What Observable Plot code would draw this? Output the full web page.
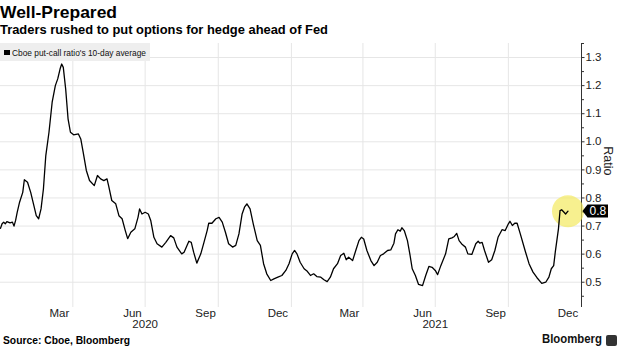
<!DOCTYPE html>
<html>
<head>
<meta charset="utf-8">
<script src="https://cdn.jsdelivr.net/npm/d3@7"></script>
<script src="https://cdn.jsdelivr.net/npm/@observablehq/plot@0.6"></script>
<style>
  html, body { margin: 0; padding: 0; background: #fff; }
  body { width: 620px; height: 348px; overflow: hidden; position: relative; font-family: "Liberation Sans", Arial, sans-serif; color: #000; }
  .abs { position: absolute; white-space: nowrap; transform-origin: 0 0; line-height: 1; }
  #title { left: 0; top: 4px; font-size: 17px; font-weight: bold; }
  #subtitle { left: 0; top: 24px; font-size: 12.5px; font-weight: bold; }
  #chart { position: absolute; left: 0; top: 40px; }
  #legendbox { position: absolute; left: 0; top: 43px; width: 150px; height: 18px; background: #eeeeee; }
  #legendsq { position: absolute; left: 4px; top: 49.5px; width: 5.5px; height: 5.5px; background: #000; }
  #legendtxt { left: 11.7px; top: 48px; font-size: 9.5px; color: #111; }
  #source { left: 3px; top: 336px; font-size: 10px; font-weight: bold; }
  #brand { left: 542px; top: 333px; font-size: 12px; font-weight: bold; color: #111; }
  #brandicon { position: absolute; left: 606px; top: 335px; width: 11px; height: 10.5px; background: #333; border-radius: 2px; }
</style>
</head>
<body>
<div id="title" class="abs">Well-Prepared</div>
<div id="subtitle" class="abs">Traders rushed to put options for hedge ahead of Fed</div>
<div id="chart"></div>
<div id="legendbox"></div>
<div id="legendsq"></div>
<div id="legendtxt" class="abs">Cboe put-call ratio's 10-day average</div>
<div id="source" class="abs">Source: Cboe, Bloomberg</div>
<div id="brand" class="abs">Bloomberg</div>
<div id="brandicon"></div>
<script>
// ---- data ----
// days since 2020-01-01 (UTC)
const dayOffsets = [
  0, 2, 4, 6, 8, 12, 15, 17, 19, 21, 24, 28, 30, 34, 38, 42, 45, 48, 51, 54,
  57, 61, 65, 69, 72, 75, 77, 79, 82, 85, 88, 92, 98, 101, 104, 108, 112, 118, 122, 126,
  130, 134, 136, 140, 145, 149, 153, 157, 160, 164, 169, 173, 175, 178, 182, 186, 189, 193, 197, 203,
  208, 214, 218, 222, 228, 231, 237, 240, 243, 247, 252, 256, 260, 262, 266, 271, 275, 279, 283, 287,
  292, 296, 300, 304, 307, 310, 314, 318, 323, 327, 331, 335, 340, 344, 349, 354, 359, 363, 367, 370,
  373, 377, 382, 386, 390, 394, 398, 403, 407, 411, 415, 419, 424, 428, 432, 435, 438, 443, 447, 451,
  454, 457, 461, 466, 470, 474, 478, 482, 487, 491, 495, 497, 500, 503, 505, 508, 512, 515, 518, 522,
  526, 531, 535, 539, 543, 547, 550, 554, 560, 564, 568, 571, 574, 577, 581, 585, 588, 593, 598, 601,
  603, 606, 609, 614, 618, 622, 626, 631, 635, 639, 641, 644, 647, 650, 654, 660, 665, 670, 675, 681,
  686, 690, 693, 696, 698, 702, 704, 706, 709, 711, 714
];
const ratioValues = [
  0.692, 0.708, 0.714, 0.708, 0.716, 0.711, 0.714, 0.700, 0.720, 0.749, 0.785, 0.820, 0.865, 0.856, 0.820, 0.773, 0.737, 0.726, 0.761, 0.832,
  0.951, 1.034, 1.141, 1.200, 1.224, 1.260, 1.277, 1.265, 1.188, 1.082, 1.034, 1.025, 1.028, 1.010, 0.963, 0.898, 0.862, 0.844, 0.880, 0.868,
  0.862, 0.868, 0.844, 0.791, 0.779, 0.737, 0.726, 0.684, 0.655, 0.678, 0.690, 0.731, 0.761, 0.743, 0.749, 0.743, 0.720, 0.660, 0.637, 0.625,
  0.642, 0.666, 0.658, 0.625, 0.601, 0.607, 0.646, 0.642, 0.607, 0.568, 0.601, 0.642, 0.684, 0.710, 0.710, 0.726, 0.731, 0.714, 0.678, 0.637,
  0.625, 0.631, 0.672, 0.743, 0.767, 0.779, 0.761, 0.708, 0.648, 0.631, 0.566, 0.530, 0.506, 0.512, 0.518, 0.524, 0.542, 0.566, 0.601, 0.613,
  0.601, 0.571, 0.548, 0.539, 0.524, 0.530, 0.520, 0.518, 0.509, 0.502, 0.518, 0.548, 0.566, 0.595, 0.603, 0.580, 0.589, 0.577, 0.613, 0.648,
  0.660, 0.654, 0.613, 0.577, 0.559, 0.571, 0.595, 0.601, 0.613, 0.615, 0.639, 0.672, 0.687, 0.682, 0.694, 0.684, 0.648, 0.601, 0.548, 0.524,
  0.492, 0.488, 0.524, 0.556, 0.553, 0.542, 0.527, 0.559, 0.601, 0.654, 0.658, 0.663, 0.674, 0.648, 0.634, 0.625, 0.601, 0.599, 0.637, 0.646,
  0.639, 0.642, 0.613, 0.571, 0.580, 0.613, 0.660, 0.687, 0.684, 0.708, 0.717, 0.702, 0.710, 0.710, 0.672, 0.613, 0.566, 0.536, 0.516, 0.496,
  0.500, 0.518, 0.548, 0.559, 0.607, 0.690, 0.755, 0.758, 0.749, 0.743, 0.753
];
const xDomainDates = ["2020-01-01", "2022-01-01"];
const yDomainValues = [0.41, 1.35];
const yTickValues = [0.5, 0.6, 0.7, 0.8, 0.9, 1.0, 1.1, 1.2, 1.3];
const yMinorTickValues = [0.45, 0.55, 0.65, 0.75, 0.85, 0.95, 1.05, 1.15, 1.25, 1.35];
const gridDates = ["2020-04-01", "2020-07-01", "2020-10-01", "2021-01-01", "2021-04-01", "2021-07-01", "2021-10-01"];
const monthLabelDates = ["2020-03-15", "2020-06-15", "2020-09-15", "2020-12-15", "2021-03-15", "2021-06-15", "2021-09-15", "2021-12-15"];
const monthLabelTexts = ["Mar", "Jun", "Sep", "Dec", "Mar", "Jun", "Sep", "Dec"];
const yearLabelDates = ["2020-07-01", "2021-07-01"];
const yearLabelTexts = ["2020", "2021"];
const yLabel = "Ratio";

// ---- build tables ----
const start = new Date(Date.UTC(2020, 0, 1));
const series = dayOffsets.map((d, i) => ({ date: d3.utcDay.offset(start, d), value: ratioValues[i] }));
const last = series[series.length - 1];
const months = monthLabelDates.map((d, i) => ({ date: new Date(d), label: monthLabelTexts[i] }));
const years = yearLabelDates.map((d, i) => ({ date: new Date(d), label: yearLabelTexts[i] }));
const xDomain = xDomainDates.map(d => new Date(d));
const fmt = d3.format(".1f");
const font = '"Liberation Sans", Arial, sans-serif';
const gridColor = "#e6e6e6";

const chart = Plot.plot({
  width: 620,
  height: 295,
  marginTop: 3,
  marginBottom: 28,
  marginLeft: 0,
  marginRight: 39,
  x: { type: "utc", domain: xDomain, axis: null },
  y: { domain: yDomainValues },
  style: { fontFamily: font, fontSize: "11px", color: "#222", background: "transparent", overflow: "visible" },
  marks: [
    Plot.gridY(yTickValues, { stroke: gridColor, strokeOpacity: 1, strokeWidth: 1 }),
    Plot.gridX(gridDates.map(d => new Date(d)), { stroke: gridColor, strokeOpacity: 1, strokeWidth: 1 }),
    Plot.ruleX([xDomain[1]], { stroke: "#333", strokeWidth: 1 }),
    Plot.axisY(yTickValues, { anchor: "right", tickSize: 2.5, tickPadding: 1.5, tickFormat: fmt, label: null, fontSize: 11.5, stroke: "#333" }),
    Plot.axisY(yMinorTickValues, { anchor: "right", tickSize: 2, tickFormat: () => "", label: null, stroke: "#333" }),
    Plot.text([yLabel], { frameAnchor: "right", dx: 26, rotate: 90, fontSize: 12.5, fill: "#222" }),
    Plot.text(months, { x: "date", text: "label", frameAnchor: "bottom", dy: 9, fontSize: 11.5, fill: "#222" }),
    Plot.text(years, { x: "date", text: "label", frameAnchor: "bottom", dy: 20.5, fontSize: 11.5, fill: "#222" }),
    Plot.dot([last], { x: "date", y: "value", r: 16, fill: "#f3ea5f", fillOpacity: 0.7, stroke: "none" }),
    Plot.line(series, { x: "date", y: "value", stroke: "#000", strokeWidth: 1.3 }),
    Plot.text([last], { x: () => xDomain[1], y: "value", text: d => fmt(d.value), dx: 8, textAnchor: "start", fill: "#fff", fontSize: 12, className: "lastlabel" })
  ]
});
document.getElementById("chart").appendChild(chart);

// black callout behind the last-value label
const lbl = chart.querySelector(".lastlabel text");
if (lbl) {
  const b = lbl.getBBox();
  const x0 = b.x - 2, x1 = b.x + b.width + 1.5, y0 = b.y + 0.5, y1 = b.y + b.height - 0.5, ym = (y0 + y1) / 2;
  const p = document.createElementNS("http://www.w3.org/2000/svg", "path");
  p.setAttribute("d", `M${x0 - 5},${ym}L${x0},${y0}H${x1}V${y1}H${x0}Z`);
  p.setAttribute("fill", "#000");
  const tr = lbl.getAttribute("transform");
  if (tr) p.setAttribute("transform", tr);
  lbl.parentNode.insertBefore(p, lbl);
}

// fit condensed-looking texts to the reference widths
function fit(id, w) {
  const el = document.getElementById(id);
  const r = el.getBoundingClientRect().width;
  if (r > 0) el.style.transform = `scaleX(${w / r})`;
}
fit("title", 117);
fit("subtitle", 328);
fit("legendtxt", 134);
fit("source", 127);
fit("brand", 60);
</script>
</body>
</html>
